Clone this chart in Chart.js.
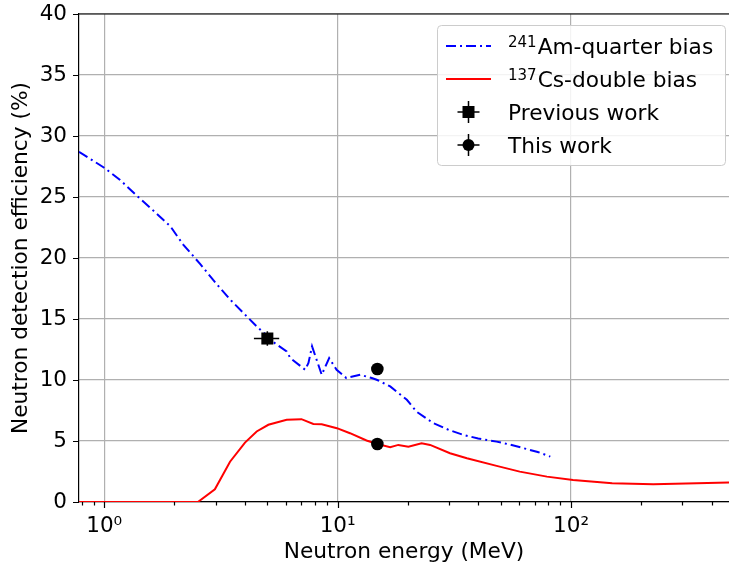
<!DOCTYPE html>
<html>
<head>
<meta charset="utf-8">
<script src="https://cdn.jsdelivr.net/npm/chart.js@4.4.1/dist/chart.umd.min.js"></script>
<style>
  html, body { margin: 0; padding: 0; background: #fff; overflow: hidden; }
  #wrap { width: 729px; height: 570px; }
</style>
</head>
<body>
<div id="wrap"><canvas id="chart-eff"></canvas></div>
<script>
// 241Am-quarter bias curve (MeV, %)
const amEnergy = [0.78, 1.0, 1.17, 1.38, 1.6, 1.92, 2.18, 2.58, 2.93, 3.46, 4.09, 4.5, 5.0, 5.4, 6.05, 6.27, 7.26, 7.5, 7.77, 8.55, 9.2, 9.9, 10.9, 12.5, 14.0, 14.7, 16.8, 19.8, 21.8, 25.7, 30, 34.6, 40, 48, 55, 62.6, 72, 81.5];
const amEff    = [28.7, 27.4, 26.4, 25.1, 24.0, 22.6, 21.1, 19.5, 18.2, 16.6, 15.2, 14.4, 13.6, 13.0, 12.35, 11.8, 10.84, 11.4, 12.76, 10.43, 11.8, 10.84, 10.16, 10.43, 10.16, 10.02, 9.47, 8.38, 7.4, 6.46, 5.9, 5.5, 5.2, 4.95, 4.7, 4.41, 4.1, 3.72];

// 137Cs-double bias curve (MeV, %)
const csEnergy = [0.78, 1.0, 1.5, 2.0, 2.52, 2.98, 3.46, 4.01, 4.5, 5.05, 6.05, 7.0, 7.87, 8.55, 9.93, 11.3, 13.3, 14.8, 16.8, 18.2, 20.1, 22.9, 24.9, 30.3, 35.8, 48, 60.3, 78.8, 102, 150, 225, 346, 500];
const csEff    = [0, 0, 0, 0, 0, 1.04, 3.3, 4.87, 5.78, 6.33, 6.74, 6.79, 6.4, 6.38, 6.05, 5.64, 5.04, 4.76, 4.49, 4.68, 4.54, 4.82, 4.68, 4.0, 3.59, 2.96, 2.49, 2.08, 1.81, 1.53, 1.45, 1.53, 1.6];

// measured points
const prevEnergy = [5.0];
const prevEff    = [13.4];
const prevEErr   = [0.62];
const prevEffErr = [0.6];

const thisEnergy = [14.8, 14.8];
const thisEff    = [10.9, 4.76];
const thisEErr   = [0.3, 0.3];
const thisEffErr = [0.3, 0.3];

// axis ticks
const xMajorTicks  = [1, 10, 100];
const xMajorLabels = ["10\u2070", "10\u00b9", "10\u00b2"];
const yTicks = [0, 5, 10, 15, 20, 25, 30, 35, 40];

// legend entries: superscript + text
const legendItems = [
  { sup: "241", label: "Am-quarter bias", kind: "dashdot" },
  { sup: "137", label: "Cs-double bias", kind: "line" },
  { sup: "", label: "Previous work", kind: "square" },
  { sup: "", label: "This work", kind: "circle" },
];

const FONT = "DejaVu Sans";
Chart.defaults.font.family = FONT;
Chart.defaults.font.size = 21.7;
Chart.defaults.color = "#000";

function pts(xs, ys) {
  return xs.map((x, i) => ({ x: x, y: ys[i] }));
}

function noPad(s) {
  s.paddingLeft = 0;
  s.paddingRight = 0;
  s.paddingTop = 0;
  s.paddingBottom = 0;
}

// all tick positions on the log axis (minor + major)
const xTickValues = [];
[0.1, 1, 10, 100].forEach(function (dec) {
  for (let m = 1; m <= 9; m++) {
    const v = +(m * dec).toPrecision(3);
    if (v >= 0.78 && v <= 480) xTickValues.push(v);
  }
});

const errorBars = {
  id: "errorBars",
  afterDatasetsDraw(chart) {
    const c = chart.ctx, xs = chart.scales.x, ys = chart.scales.y;
    c.save();
    c.strokeStyle = "#000";
    c.lineWidth = 1.5;
    function draw(ex, ey, exErr, eyErr) {
      ex.forEach(function (e, i) {
        const px = xs.getPixelForValue(e), py = ys.getPixelForValue(ey[i]);
        c.beginPath();
        c.moveTo(xs.getPixelForValue(e - exErr[i]), py);
        c.lineTo(xs.getPixelForValue(e + exErr[i]), py);
        c.moveTo(px, ys.getPixelForValue(ey[i] - eyErr[i]));
        c.lineTo(px, ys.getPixelForValue(ey[i] + eyErr[i]));
        c.stroke();
      });
    }
    draw(prevEnergy, prevEff, prevEErr, prevEffErr);
    draw(thisEnergy, thisEff, thisEErr, thisEffErr);
    c.restore();
  },
};

const frame = {
  id: "frame",
  afterDraw(chart) {
    const c = chart.ctx, a = chart.chartArea;
    const xs = chart.scales.x, ys = chart.scales.y;
    c.save();
    c.strokeStyle = "#000";
    c.lineWidth = 1.2;
    // top spine
    c.beginPath();
    c.moveTo(a.left, a.top);
    c.lineTo(a.right, a.top);
    c.stroke();
    // tick marks
    c.beginPath();
    xs.ticks.forEach(function (t) {
      const px = Math.round(xs.getPixelForValue(t.value)) + 0.5;
      const len = xMajorTicks.includes(t.value) ? 6 : 3.5;
      c.moveTo(px, a.bottom);
      c.lineTo(px, a.bottom + len);
    });
    ys.ticks.forEach(function (t) {
      const py = Math.round(ys.getPixelForValue(t.value)) + 0.5;
      c.moveTo(a.left, py);
      c.lineTo(a.left - 6, py);
    });
    c.stroke();

    // legend
    const bx = a.right - 292, by = a.top + 11, bw = 288, bh = 140;
    c.beginPath();
    c.roundRect(bx + 0.5, by + 0.5, bw, bh, 4);
    c.fillStyle = "rgba(255,255,255,0.85)";
    c.fill();
    c.strokeStyle = "#cccccc";
    c.lineWidth = 1;
    c.stroke();
    c.textBaseline = "alphabetic";
    c.fillStyle = "#000";
    legendItems.forEach(function (it, i) {
      const y = by + 21 + i * 33;
      const x0 = bx + 9, x1 = bx + 54, xm = (x0 + x1) / 2;
      c.save();
      if (it.kind === "dashdot" || it.kind === "line") {
        c.lineWidth = 2;
        c.strokeStyle = it.kind === "dashdot" ? "#0000ff" : "#ff0000";
        c.setLineDash(it.kind === "dashdot" ? [10, 4, 2, 4] : []);
        c.beginPath();
        c.moveTo(x0, y);
        c.lineTo(x1, y);
        c.stroke();
      } else {
        c.strokeStyle = "#000";
        c.lineWidth = 1.5;
        c.beginPath();
        c.moveTo(xm - 11, y); c.lineTo(xm + 11, y);
        c.moveTo(xm, y - 11); c.lineTo(xm, y + 11);
        c.stroke();
        c.fillStyle = "#000";
        c.beginPath();
        if (it.kind === "square") c.rect(xm - 6, y - 6, 12, 12);
        else c.arc(xm, y, 6, 0, Math.PI * 2);
        c.fill();
      }
      c.restore();
      let tx = bx + 71;
      const base = y + 8;
      if (it.sup) {
        c.font = "15px '" + FONT + "'";
        c.fillText(it.sup, tx, base - 7);
        tx += c.measureText(it.sup).width + 1;
      }
      c.font = "21.7px '" + FONT + "'";
      c.fillText(it.label, tx, base);
    });
    c.restore();
  },
};

const ctx = document.getElementById("chart-eff");

let chartEff = new Chart(ctx, {
  type: "scatter",
  data: {
    datasets: [
      {
        label: "Previous work",
        data: pts(prevEnergy, prevEff),
        pointStyle: "rect",
        pointRadius: 8.5,
        backgroundColor: "#000",
        borderColor: "#000",
        borderWidth: 0,
        order: 0,
      },
      {
        label: "This work",
        data: pts(thisEnergy, thisEff),
        pointStyle: "circle",
        pointRadius: 6.3,
        backgroundColor: "#000",
        borderColor: "#000",
        borderWidth: 0,
        order: 0,
      },
      {
        label: "241Am-quarter bias",
        data: pts(amEnergy, amEff),
        showLine: true,
        borderColor: "#0000ff",
        borderWidth: 2,
        borderDash: [10, 4, 2, 4],
        pointRadius: 0,
        tension: 0,
        order: 2,
      },
      {
        label: "137Cs-double bias",
        data: pts(csEnergy, csEff),
        showLine: true,
        borderColor: "#ff0000",
        borderWidth: 2,
        pointRadius: 0,
        tension: 0,
        order: 1,
      },
    ],
  },
  options: {
    responsive: true,
    maintainAspectRatio: false,
    animation: false,
    layout: { autoPadding: false, padding: { top: 14, right: 0, left: 0, bottom: 0 } },
    plugins: { legend: { display: false }, tooltip: { enabled: false } },
    scales: {
      x: {
        type: "logarithmic",
        min: 0.78,
        max: 475,
        afterBuildTicks: function (s) {
          s.ticks = xTickValues.map((v) => ({ value: v }));
        },
        afterFit: function (s) {
          s.height = 68;
          noPad(s);
        },
        ticks: {
          autoSkip: false,
          maxRotation: 0,
          padding: 12,
          font: { size: 21.5 },
          callback: function (v) {
            const k = xMajorTicks.indexOf(v);
            return k >= 0 ? xMajorLabels[k] : "";
          },
        },
        grid: {
          drawTicks: false,
          lineWidth: 1.2,
          color: function (c) {
            return c.tick && xMajorTicks.includes(c.tick.value) ? "#b0b0b0" : "rgba(0,0,0,0)";
          },
        },
        border: { color: "#000", width: 1.2 },
        title: { display: true, text: "Neutron energy (MeV)", padding: { top: 0, bottom: 5 } },
      },
      y: {
        min: 0,
        max: 40,
        afterBuildTicks: function (s) {
          s.ticks = yTicks.map((v) => ({ value: v }));
        },
        afterFit: function (s) {
          s.width = 79;
          noPad(s);
        },
        ticks: { padding: 12, font: { size: 21.5 } },
        grid: { drawTicks: false, color: "#b0b0b0", lineWidth: 1.2 },
        border: { color: "#000", width: 1.2 },
        title: { display: true, text: "Neutron detection efficiency (%)", padding: { top: 8, bottom: 0 } },
      },
    },
  },
  plugins: [errorBars, frame],
});
</script>
</body>
</html>
